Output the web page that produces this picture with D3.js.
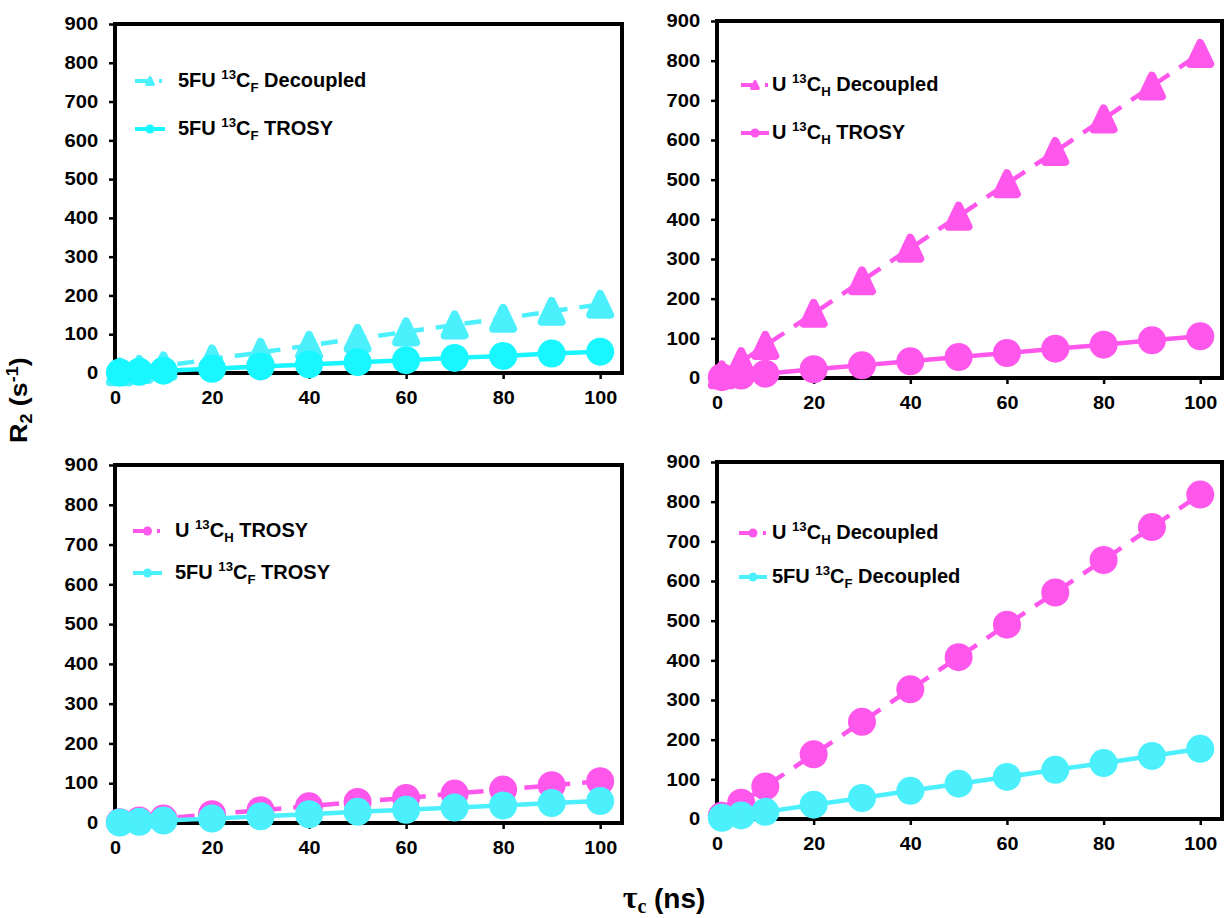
<!DOCTYPE html>
<html><head><meta charset="utf-8">
<script src="https://cdn.jsdelivr.net/npm/d3@7"></script>
<style>
body{margin:0;background:#fff}
svg{display:block}
text{font-family:"Liberation Sans",Arial,sans-serif;font-weight:bold;fill:#000}
</style>
</head><body>
<svg id="c" width="1226" height="918"></svg>
<script>
// ---- data ----
const tau = [1, 5, 10, 20, 30, 40, 50, 60, 70, 80, 90, 100];
const u13CH_Decoupled = [8, 41, 82, 163, 245, 327, 408, 490, 571, 653, 736, 818];
const u13CH_TROSY = [2, 6, 11, 22, 32, 42, 53, 63, 74, 84, 95, 105];
const fu13CF_Decoupled = [3, 9, 18, 36, 53, 71, 89, 106, 124, 141, 159, 177];
const fu13CF_TROSY = [1, 3, 6, 11, 17, 22, 28, 33, 39, 44, 50, 55];
const xTicks = [0, 20, 40, 60, 80, 100];
const yTicks = [0, 100, 200, 300, 400, 500, 600, 700, 800, 900];
const xDomain = [0, 104.5];
const yDomain = [0, 900];

const magenta = "#ff57ec", cyanL = "#4cf0fd", cyanB = "#18f6ff";

const svg = d3.select("#c");

const panels = [
  {box:[115,24,622,373],
   series:[
     {lab:["5FU","F","Decoupled"], data:fu13CF_Decoupled, color:cyanL, marker:"tri", dash:true},
     {lab:["5FU","F","TROSY"], data:fu13CF_TROSY, color:cyanB, marker:"circ", dash:false}],
   leg:{x1:135,x2:165,tx:178,base:[87,135]}},
  {box:[717,21,1222,378],
   series:[
     {lab:["U","H","Decoupled"], data:u13CH_Decoupled, color:magenta, marker:"tri", dash:true},
     {lab:["U","H","TROSY"], data:u13CH_TROSY, color:magenta, marker:"circ", dash:false}],
   leg:{x1:741,x2:769,tx:772,base:[91,139]}},
  {box:[115,465,622,823],
   series:[
     {lab:["U","H","TROSY"], data:u13CH_TROSY, color:magenta, marker:"circ", dash:true},
     {lab:["5FU","F","TROSY"], data:fu13CF_TROSY, color:cyanL, marker:"circ", dash:false}],
   leg:{x1:133,x2:162,tx:175,base:[537,579]}},
  {box:[717,462,1222,819],
   series:[
     {lab:["U","H","Decoupled"], data:u13CH_Decoupled, color:magenta, marker:"circ", dash:true},
     {lab:["5FU","F","Decoupled"], data:fu13CF_Decoupled, color:cyanL, marker:"circ", dash:false}],
   leg:{x1:739,x2:767,tx:772,base:[539,583]}}
];

function triPath(s){ // centred triangle
  const h = s, w = s*0.95;
  return `M0,${-h/2}L${w/2},${h/2}L${-w/2},${h/2}Z`;
}

function drawMarker(g, type, color, big){
  if(type==="tri"){
    const s = big?21:7;
    g.append("path").attr("d", triPath(s)).attr("fill", color)
      .attr("stroke", color).attr("stroke-width", big?8:3).attr("stroke-linejoin","round");
  } else {
    g.append("circle").attr("r", big?14:4.5).attr("fill", color);
  }
}

function addLabel(t, parts, size){
  const [pre, sub, post] = parts;
  t.append("tspan").text(pre + " ");
  t.append("tspan").text("13").attr("font-size", size*0.66).attr("dy", -size*0.38);
  t.append("tspan").text("C").attr("dy", size*0.38);
  t.append("tspan").text(sub).attr("font-size", size*0.66).attr("dy", size*0.25);
  t.append("tspan").text(" " + post).attr("dy", -size*0.25);
}

panels.forEach(p => {
  const [L,T,R,B] = p.box;
  const x = d3.scaleLinear().domain(xDomain).range([L,R]);
  const y = d3.scaleLinear().domain(yDomain).range([B,T]);
  const g = svg.append("g");

  // axes
  const ya = g.append("g").attr("transform",`translate(${L},0)`)
    .call(d3.axisLeft(y).tickValues(yTicks).tickSize(6).tickPadding(9).tickFormat(d3.format("d")));
  const xa = g.append("g").attr("transform",`translate(0,${B})`)
    .call(d3.axisBottom(x).tickValues(xTicks).tickSize(6).tickPadding(12).tickFormat(d3.format("d")));
  [ya,xa].forEach(a=>{
    a.select(".domain").remove();
    a.selectAll(".tick line").attr("stroke","#000").attr("stroke-width",2.5);
    a.selectAll(".tick text").attr("font-size",18).attr("fill","#000")
      .style("font-family",'"Liberation Sans",Arial,sans-serif').style("font-weight","bold");
  });
  ya.selectAll(".tick text").attr("transform","scale(1.12,1)");
  xa.selectAll(".tick text").attr("transform","scale(1.1,1)");

  g.append("rect").attr("x",L).attr("y",T).attr("width",R-L).attr("height",B-T)
    .attr("fill","none").attr("stroke","#000").attr("stroke-width",4);

  // series
  const line = d3.line().x((d,i)=>x(tau[i])).y(d=>y(d));
  p.series.forEach(s => {
    g.append("path").datum(s.data).attr("d", line).attr("fill","none")
      .attr("stroke", s.color).attr("stroke-width", 4.5)
      .attr("stroke-dasharray", s.dash ? "17,12" : null);
    s.data.forEach((v,i) => {
      const m = g.append("g").attr("transform",`translate(${x(tau[i])},${y(v)})`);
      drawMarker(m, s.marker, s.color, true);
    });
  });

  // legend
  p.series.forEach((s,k) => {
    const base = p.leg.base[k];
    const ly = base - 6;
    g.append("line").attr("x1",p.leg.x1).attr("x2",p.leg.x2).attr("y1",ly).attr("y2",ly)
      .attr("stroke",s.color).attr("stroke-width",4)
      .attr("stroke-dasharray", s.dash ? "14,10,3,20" : null);
    const m = g.append("g").attr("transform",`translate(${p.leg.x1 + (p.leg.x2-p.leg.x1)*0.5},${ly})`);
    drawMarker(m, s.marker, s.color, false);
    const t = g.append("text").attr("x",p.leg.tx).attr("y",base).attr("font-size",20);
    addLabel(t, s.lab, 20);
  });
});

// global axis titles
const yt = svg.append("text").attr("transform","translate(27,443) rotate(-90) scale(1.12,1)")
  .attr("font-size",24).attr("text-anchor","start");
yt.append("tspan").text("R");
yt.append("tspan").text("2").attr("font-size",16).attr("dy",5);
yt.append("tspan").text(" (s").attr("dy",-5);
yt.append("tspan").text("-1").attr("font-size",16).attr("dy",-9);
yt.append("tspan").text(")").attr("dy",9);

const xt = svg.append("text").attr("x",664).attr("y",908).attr("font-size",28).attr("text-anchor","middle");
xt.append("tspan").text("τ").style("font-family",'"Liberation Serif","DejaVu Serif",serif').attr("font-size",32);
xt.append("tspan").text("c").style("font-family",'"Liberation Serif","DejaVu Serif",serif').attr("font-size",20).attr("dy",5);
xt.append("tspan").text(" (ns)").attr("dy",-5);
</script>
</body></html>
